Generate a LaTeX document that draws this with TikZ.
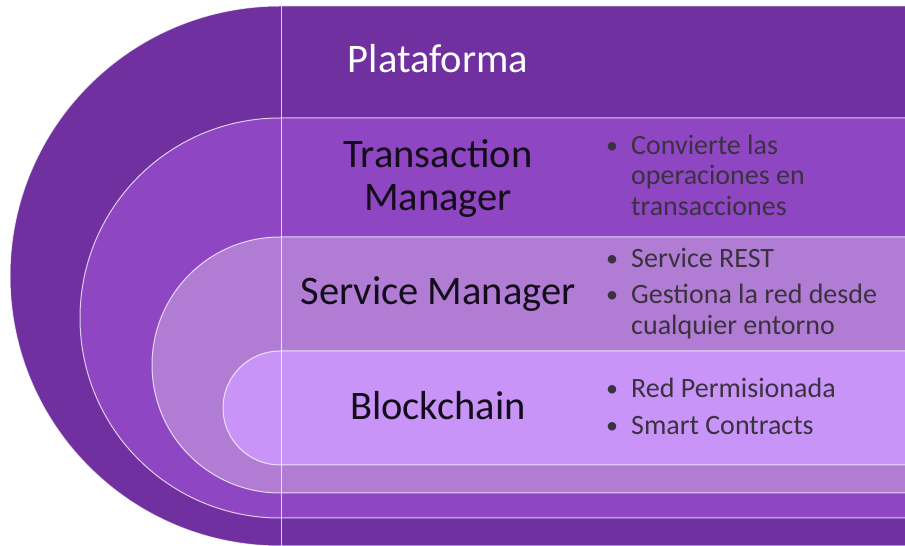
\documentclass[tikz,border=0pt]{standalone}
\usepackage{fontspec}
\setmainfont{Carlito}
\definecolor{layA}{RGB}{112,48,160}
\definecolor{layB}{RGB}{142,70,194}
\definecolor{layC}{RGB}{176,124,212}
\definecolor{layD}{RGB}{200,148,248}
\definecolor{bultxt}{RGB}{58,50,64}
\definecolor{ttltxt}{RGB}{20,12,26}
\begin{document}
\begin{tikzpicture}[x=1pt,y=1pt,
  layer/.style={draw=white, draw opacity=0.75, line width=1pt},
  title/.style={font=\fontsize{40.5}{43}\selectfont, anchor=base, inner sep=0pt, text=ttltxt},
  bultext/.style={font=\fontsize{28}{30}\selectfont, anchor=base west, inner sep=0pt, text=bultxt},
  buldot/.style={font=\fontsize{24}{30}\selectfont, anchor=base, inner sep=0pt, text=bultxt}]
\useasboundingbox (0,0) rectangle (905,546);
\fill[white] (0,0) rectangle (905,546);
\begin{scope}
\clip (0,0) rectangle (905,546);
\filldraw[layer, fill=layA] (910,540) -- (280,540) arc[start angle=90,end angle=270,radius=270] -- (910,0) -- cycle;
\filldraw[layer, fill=layB] (910,428) -- (280,428) arc[start angle=90,end angle=270,radius=200] -- (910,28) -- cycle;
\filldraw[layer, fill=layC] (910,309) -- (280,309) arc[start angle=90,end angle=270,radius=128] -- (910,53) -- cycle;
\filldraw[layer, fill=layD] (910,195) -- (280,195) arc[start angle=90,end angle=270,radius=57] -- (910,81) -- cycle;
\draw[layer] (281,540) -- (281,-2);
\end{scope}
% titles
\node[title, text=white] (plat) at (438,473) {Plataforma};
\node[title] (tm1) at (438,378) {Transaction};
\node[title] (tm2) at (438,335) {Manager};
\node[title] (sm) at (438,241) {Service Manager};
\node[title] (bc) at (438,126) {Blockchain};
% bullets layer B
\node[buldot] (d1) at (612,392) {•};
\node[bultext] (b1a) at (631,391) {Convierte las};
\node[bultext] (b1b) at (631,361) {operaciones en};
\node[bultext] (b1c) at (631,330) {transacciones};
% bullets layer C
\node[buldot] (d2) at (612,279) {•};
\node[bultext] (b2) at (631,278) {Service REST};
\node[buldot] (d3) at (612,243) {•};
\node[bultext] (b3a) at (631,242) {Gestiona la red desde};
\node[bultext] (b3b) at (631,211) {cualquier entorno};
% bullets layer D
\node[buldot] (d4) at (612,149) {•};
\node[bultext] (b4) at (631,148) {Red Permisionada};
\node[buldot] (d5) at (612,112) {•};
\node[bultext] (b5) at (631,111) {Smart Contracts};
\end{tikzpicture}
\end{document}
